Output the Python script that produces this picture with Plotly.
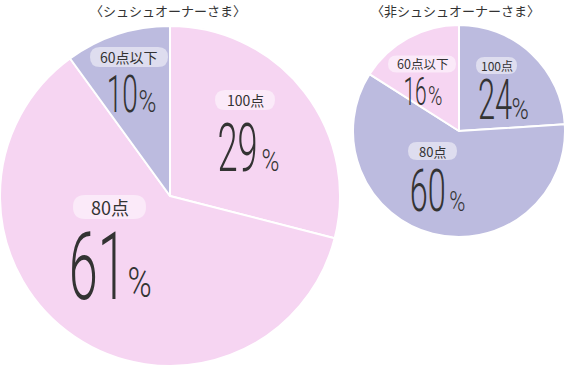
import plotly.graph_objects as go

W, H = 568, 366

categories = ["100点", "80点", "60点以下"]
owner_values = [29, 61, 10]
non_owner_values = [24, 60, 16]
owner_title = "〈シュシュオーナーさま〉"
non_owner_title = "〈非シュシュオーナーさま〉"

PINK = "#f6d5f2"
LAV = "#bcbbdf"
owner_colors = [PINK, PINK, LAV]
non_owner_colors = [LAV, LAV, PINK]

TXT = "#333333"
NUM_FONT = "Roboto, sans-serif"
JP_FONT = "Noto Sans CJK JP, sans-serif"


def px(x):
    return x / W


def py(y):
    return 1 - y / H


fig = go.Figure()
fig.add_trace(go.Pie(
    labels=categories, values=owner_values, sort=False, direction="clockwise",
    rotation=0, marker=dict(colors=owner_colors, line=dict(color="white", width=2)),
    textinfo="none", hoverinfo="none", showlegend=False,
    domain=dict(x=[px(0), px(340)], y=[py(366), py(26)]),
))
fig.add_trace(go.Pie(
    labels=categories, values=non_owner_values, sort=False, direction="clockwise",
    rotation=0, marker=dict(colors=non_owner_colors, line=dict(color="white", width=2)),
    textinfo="none", hoverinfo="none", showlegend=False,
    domain=dict(x=[px(353), px(565)], y=[py(237), py(25)]),
))

shapes = []
annotations = []


def pill(cx, cy, w, h):
    r = h / 2
    l, rgt, t, b = cx - w / 2, cx + w / 2, cy - h / 2, cy + h / 2
    path = (f"M {px(l + r)} {py(t)} L {px(rgt - r)} {py(t)} "
            f"Q {px(rgt)} {py(t)} {px(rgt)} {py(cy)} "
            f"Q {px(rgt)} {py(b)} {px(rgt - r)} {py(b)} "
            f"L {px(l + r)} {py(b)} "
            f"Q {px(l)} {py(b)} {px(l)} {py(cy)} "
            f"Q {px(l)} {py(t)} {px(l + r)} {py(t)} Z")
    shapes.append(dict(type="path", xref="paper", yref="paper", path=path,
                       fillcolor="rgba(255,255,255,0.5)", line=dict(width=0)))


def text(s, cx, cy, size, family, weight=400, yanchor="middle"):
    annotations.append(dict(x=px(cx), y=py(cy), xref="paper", yref="paper",
                            text=s, showarrow=False, borderpad=0,
                            font=dict(family=family, size=size, color=TXT, weight=weight),
                            xanchor="center", yanchor=yanchor))


def label(s, cx, cy, w, h, size):
    pill(cx, cy, w, h)
    text(s, cx, cy, size, JP_FONT)


def number(val, cx, cy, size, pcx, pcy, psize):
    text(str(val), cx, cy, size, NUM_FONT, 300)
    text("%", pcx, pcy, psize, NUM_FONT, 300)


# left pie
label(categories[0], 245, 100, 60, 20, 14)
number(owner_values[0], 237, 148, 66, 270, 161, 31)
label(categories[1], 109.5, 207, 73, 24, 18)
number(owner_values[1], 97.5, 266, 95, 139.5, 282, 42)
label(categories[2], 129, 57, 78, 20, 14)
number(owner_values[2], 122, 94.5, 51, 147, 101.5, 31)

# right pie
label(categories[0], 496.5, 65.5, 41, 17, 12)
number(non_owner_values[0], 494.5, 99.5, 56, 520, 108.5, 30)
label(categories[1], 432.5, 151, 49, 18, 13)
number(non_owner_values[1], 427.5, 190.5, 59, 457.5, 202, 28)
label(categories[2], 422, 64, 68, 17, 12.5)
number(non_owner_values[2], 415, 92, 38, 434.5, 96.5, 25)

# titles
text(owner_title, 167.5, 0, 13, JP_FONT, yanchor="top")
text(non_owner_title, 455.5, 0, 13, JP_FONT, yanchor="top")

fig.update_layout(
    width=W, height=H, margin=dict(l=0, r=0, t=0, b=0),
    paper_bgcolor="white", plot_bgcolor="white",
    shapes=shapes, annotations=annotations,
)

post = """
document.body.style.margin = '0';
document.querySelectorAll('.annotation-text').forEach(function (t) {
  var s = t.textContent;
  var k = /^[0-9]+$/.test(s) ? 0.55 : (s === '%' ? 0.78 : 1);
  if (k !== 1) {
    t.style.transformBox = 'fill-box';
    t.style.transformOrigin = 'center';
    t.style.transform = 'scaleX(' + k + ')';
  }
});
"""

fig.write_html("out.html", post_script=post, config={"displayModeBar": False})
